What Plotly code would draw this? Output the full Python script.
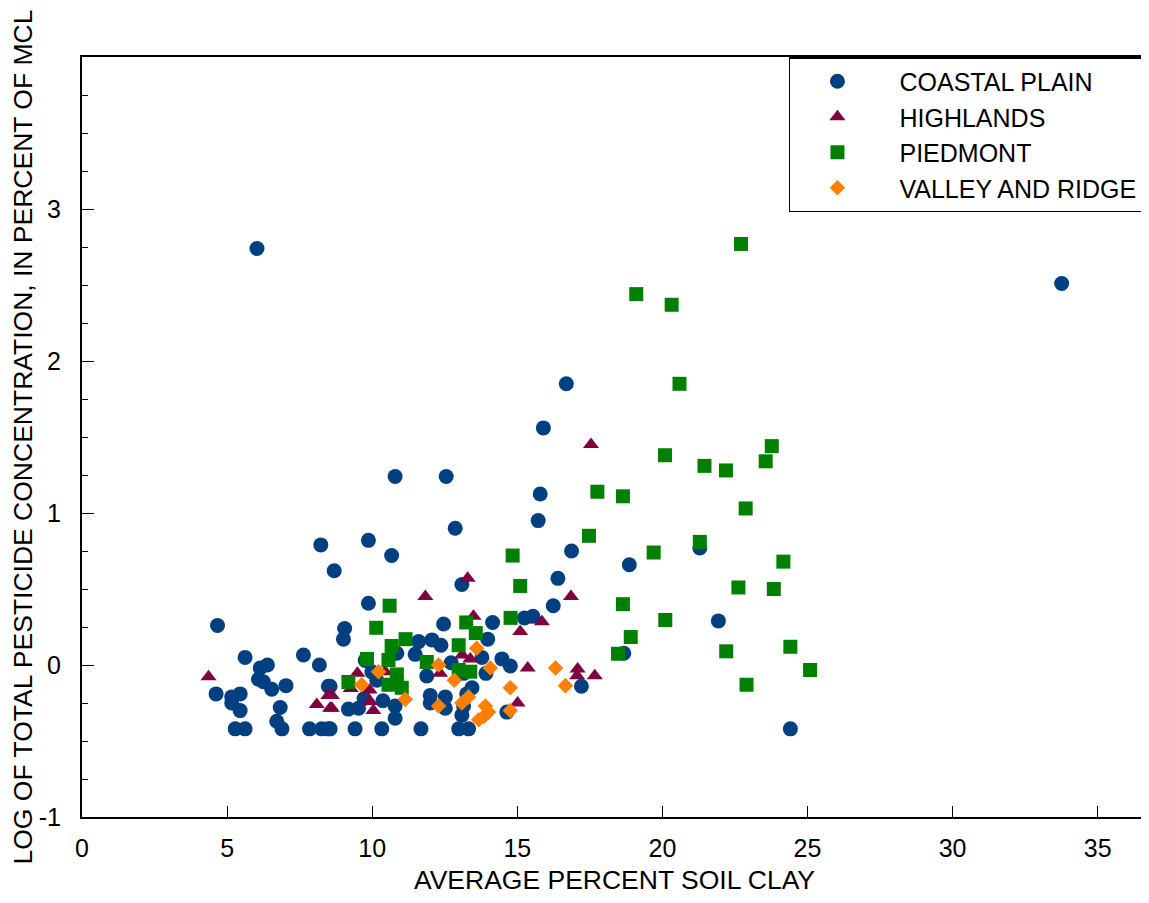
import plotly.graph_objects as go

# average percent soil clay vs log of pesticide concentration (% of MCL)
coastal_x = [6.03, 33.76, 16.69, 15.9, 12.55, 10.79, 15.79, 15.72, 12.86, 8.23, 9.87, 10.67, 8.69,
             16.87, 18.86, 16.4, 13.09, 16.24, 21.29, 21.93, 18.67, 24.41, 17.21, 9.87, 9.05, 9.01,
             12.46, 14.15, 15.25, 15.54, 13.98, 11.6, 12.06, 12.37, 11.48, 10.85, 12.72, 13.78, 14.47,
             14.76, 11.88, 13.92, 8.55, 9.72, 9.18, 9.53, 10.37, 10.79, 10.79, 12.0, 12.52, 12.0, 12.52,
             13.15, 13.44, 13.26, 13.09, 12.98, 13.32, 14.64, 9.41, 10.33, 11.68, 8.55, 4.67, 5.62, 4.62,
             5.16, 5.45, 5.16, 5.45, 5.28, 5.62, 6.14, 6.39, 6.08, 6.25, 6.54, 7.03, 6.83, 6.71, 6.89,
             7.63, 8.18, 7.84, 8.26, 8.49, 8.49, 9.76, 10.16, 9.99, 13.15]
coastal_y = [2.74, 2.51, 1.85, 1.56, 1.24, 1.24, 1.125, 0.95, 0.90, 0.79, 0.82, 0.72, 0.62,
             0.75, 0.66, 0.57, 0.53, 0.39, 0.77, 0.29, 0.077, -0.42, -0.14, 0.406, 0.24, 0.17,
             0.27, 0.28, 0.31, 0.32, 0.17, 0.154, 0.165, 0.13, 0.07, 0.077, 0.015, 0.05, 0.04,
             -0.007, -0.072, -0.055, -0.14, -0.22, -0.29, -0.285, -0.235, -0.27, -0.35, -0.2, -0.21, -0.25, -0.285,
             -0.27, -0.15, -0.19, -0.33, -0.42, -0.42, -0.31, -0.42, -0.42, -0.42, -0.42, 0.26, 0.05, -0.19,
             -0.21, -0.19, -0.25, -0.30, -0.42, -0.42, -0.02, 0.0, -0.094, -0.11, -0.16, -0.136, -0.28, -0.37, -0.42,
             0.066, 0.0, -0.42, -0.42, -0.42, -0.14, 0.03, -0.1, -0.045, -0.055]

highlands_x = [17.54, 13.29, 16.85, 11.83, 13.49, 15.85, 15.1, 13.1, 13.38, 9.49, 12.34, 9.26, 9.91,
               8.61, 9.93, 10.04, 8.61, 15.01, 17.08, 17.06, 17.67, 4.36, 8.09, 8.49, 8.55, 15.36, 10.45]
highlands_y = [1.45, 0.57, 0.45, 0.45, 0.32, 0.285, 0.22, 0.066, 0.04, -0.055, -0.055, -0.155, -0.165,
               -0.2, -0.24, -0.3, -0.285, -0.25, -0.026, -0.07, -0.07, -0.077, -0.26, -0.2, -0.285, -0.02, -0.045]

piedmont_x = [22.71, 19.1, 20.32, 20.59, 20.09, 21.45, 22.19, 23.77, 23.56, 18.64, 17.76, 22.87, 21.29,
              19.7, 24.17, 22.62, 23.84, 18.64, 14.84, 15.1, 17.47, 10.6, 20.1, 18.91, 18.47, 22.2, 24.41,
              25.09, 22.9, 10.14, 13.24, 14.77, 13.57, 11.15, 10.67, 12.98, 10.56, 11.88, 9.82, 10.85,
              10.56, 11.02, 12.98, 13.38, 9.18]
piedmont_y = [2.77, 2.44, 2.37, 1.85, 1.38, 1.31, 1.28, 1.44, 1.34, 1.11, 1.14, 1.03, 0.81,
              0.74, 0.68, 0.51, 0.50, 0.40, 0.72, 0.52, 0.85, 0.39, 0.296, 0.184, 0.074, 0.09, 0.12,
              -0.033, -0.13, 0.245, 0.28, 0.31, 0.21, 0.17, 0.125, 0.13, 0.033, 0.02, 0.04, -0.062,
              -0.13, -0.15, -0.033, -0.044, -0.112]

valley_x = [16.32, 16.66, 13.6, 12.29, 10.22, 12.83, 14.07, 9.64, 11.14, 12.29, 13.32, 13.09, 13.9,
            14.01, 13.84, 13.67, 14.76, 14.76]
valley_y = [-0.02, -0.136, 0.11, 0.0, -0.044, -0.1, -0.02, -0.13, -0.226, -0.27, -0.21, -0.25, -0.27,
            -0.31, -0.34, -0.36, -0.30, -0.15]

x_ticks = [0, 5, 10, 15, 20, 25, 30, 35]
y_ticks = [-1, 0, 1, 2, 3]
y_ticktext = ["-1", "0", "1", "2", "3"]

fnt = "Liberation Sans, Arial, sans-serif"

fig = go.Figure()
fig.add_trace(go.Scatter(x=coastal_x, y=coastal_y, mode="markers", name="COASTAL PLAIN",
                         marker=dict(symbol="circle", size=15, color="#004080")))
fig.add_trace(go.Scatter(x=highlands_x, y=highlands_y, mode="markers", name="HIGHLANDS",
                         marker=dict(symbol="triangle-up", size=14, color="#800040")))
fig.add_trace(go.Scatter(x=piedmont_x, y=piedmont_y, mode="markers", name="PIEDMONT",
                         marker=dict(symbol="square", size=14, color="#008000")))
fig.add_trace(go.Scatter(x=valley_x, y=valley_y, mode="markers", name="VALLEY AND RIDGE",
                         marker=dict(symbol="diamond", size=12, color="#FF8000")))

# the page body adds an 8px margin, so the figure is made smaller to fit the window
fig.update_layout(
    width=1141, height=887,
    margin=dict(l=74, r=2, t=49, b=78),
    paper_bgcolor="white", plot_bgcolor="white",
    font=dict(family=fnt, size=25, color="black"),
    showlegend=True,
    legend=dict(x=0.9962, y=1, xanchor="right", yanchor="top",
                bordercolor="black", borderwidth=1.5, bgcolor="white",
                font=dict(size=25), indentation=-15, itemwidth=114,
                tracegroupgap=0),
)
fig.update_xaxes(
    range=[0, 36.7], tickvals=x_ticks, automargin=False,
    ticks="inside", ticklen=11, tickwidth=1, tickcolor="black",
    showline=True, linecolor="black", linewidth=2, mirror=True,
    showgrid=False, zeroline=False, ticklabelstandoff=8,
    title=dict(text="AVERAGE PERCENT SOIL CLAY", standoff=18, font=dict(size=26.5)),
)
fig.update_yaxes(
    range=[-1, 4], tickvals=y_ticks, ticktext=y_ticktext, automargin=False,
    ticks="inside", ticklen=12, tickwidth=1, tickcolor="black",
    minor=dict(dtick=0.25, ticks="inside", ticklen=6, tickcolor="black", showgrid=False),
    showline=True, linecolor="black", linewidth=2, mirror=True,
    showgrid=False, zeroline=False, ticklabelstandoff=14,
    title=dict(text="LOG OF TOTAL PESTICIDE CONCENTRATION, IN PERCENT OF MCL", standoff=3,
               font=dict(size=26.5)),
)

fig.write_html("out.html")
